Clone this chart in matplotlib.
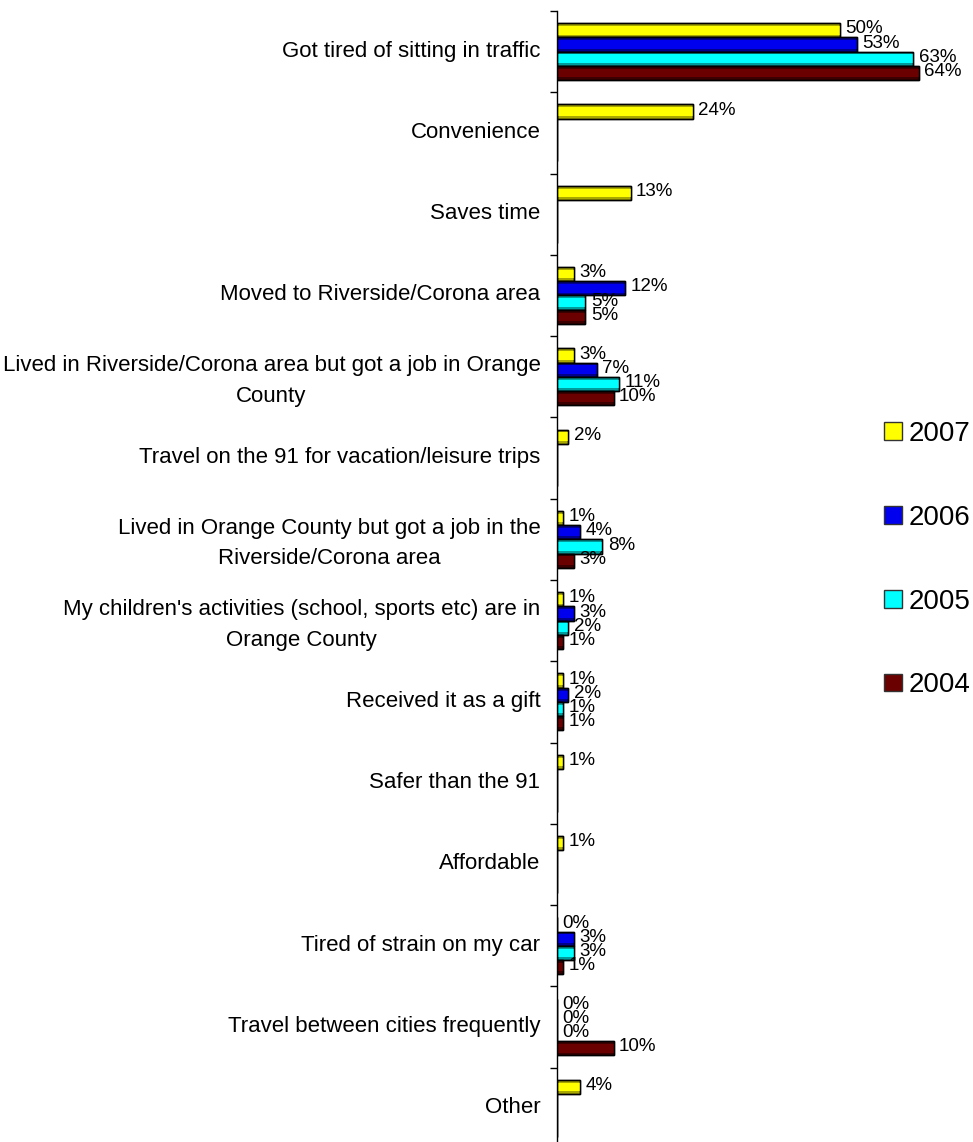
import numpy as np
import matplotlib.pyplot as plt
from matplotlib.patches import Patch
from matplotlib.transforms import ScaledTranslation

plt.rcParams['font.family'] = ['Liberation Sans', 'DejaVu Sans']

# Motivos y porcentajes por año (NaN = no preguntado ese año)
reasons = ["Got tired of sitting in traffic",
           "Convenience",
           "Saves time",
           "Moved to Riverside/Corona area",
           "Lived in Riverside/Corona area but got a job in Orange\nCounty",
           "Travel on the 91 for vacation/leisure trips",
           "Lived in Orange County but got a job in the\nRiverside/Corona area",
           "My children's activities (school, sports etc) are in\nOrange County",
           "Received it as a gift",
           "Safer than the 91",
           "Affordable",
           "Tired of strain on my car",
           "Travel between cities frequently",
           "Other"]

nan = np.nan
years = ["2007", "2006", "2005", "2004"]
v2007 = [50, 24, 13, 3, 3, 2, 1, 1, 1, 1, 1, 0, 0, 4]
v2006 = [53, nan, nan, 12, 7, nan, 4, 3, 2, nan, nan, 3, 0, nan]
v2005 = [63, nan, nan, 5, 11, nan, 8, 2, 1, nan, nan, 3, 0, nan]
v2004 = [64, nan, nan, 5, 10, nan, 3, 1, 1, nan, nan, 1, 10, nan]
series = [v2007, v2006, v2005, v2004]
colores = ['#ffff00', '#0000ee', '#00ffff', '#6a0000']
sombras = ['#a8a800', '#00008a', '#009c9c', '#3c0000']  # borde interior más oscuro

fig = plt.figure(figsize=(9.73, 11.42), dpi=100)
ax = fig.add_axes([0.5725, -0.0061, 0.4275, 0.9965])

n = len(reasons)
h = 0.175  # alto de cada barra (en unidades de categoría)
centros = np.arange(n) + 0.5

for k, (vals, col, som) in enumerate(zip(series, colores, sombras)):
    vals = np.array(vals, dtype=float)
    x = np.nan_to_num(vals)
    y = centros + (k - 1.5) * h
    # barra con sombreado: fondo oscuro y franja central brillante
    ax.barh(y, x, height=h, color=som, edgecolor='black', linewidth=1.0)
    ax.barh(y, x, height=h * 0.6, color=col, linewidth=0)
    ax.barh(y, x, height=h, color='none', edgecolor='black', linewidth=1.0)
    for yi, v in zip(y, vals):
        if np.isnan(v):
            continue
        ax.annotate(f"{v:.0f}%", xy=(v, yi), xytext=(4, 1),
                    textcoords='offset points', va='center', ha='left',
                    fontsize=13.5)

ax.set_xlim(0, 73.6)
ax.set_ylim(n, 0)

# Etiquetas de categoría centradas; marcas en los límites de cada grupo
ax.set_yticks(centros)
ax.set_yticklabels(reasons, fontsize=16, multialignment='center', linespacing=1.6)
ax.tick_params(axis='y', which='major', length=0, pad=12)
subir = ScaledTranslation(0, 0.03, fig.dpi_scale_trans)
for lab in ax.get_yticklabels():
    lab.set_transform(lab.get_transform() + subir)
ax.set_yticks(np.arange(n + 1), minor=True)
ax.tick_params(axis='y', which='minor', length=5, width=1, direction='out')

ax.set_xticks([])
for s in ['top', 'right', 'bottom']:
    ax.spines[s].set_visible(False)
ax.spines['left'].set_linewidth(1.0)

handles = [Patch(facecolor=c, edgecolor='#333333', linewidth=1.0) for c in colores]
fig.legend(handles, years, loc='upper left', bbox_to_anchor=(0.897, 0.641),
           frameon=False, fontsize=20, handlelength=0.65, handleheight=0.6,
           handletextpad=0.25, labelspacing=2.08, borderaxespad=0)

plt.savefig('out.png')
